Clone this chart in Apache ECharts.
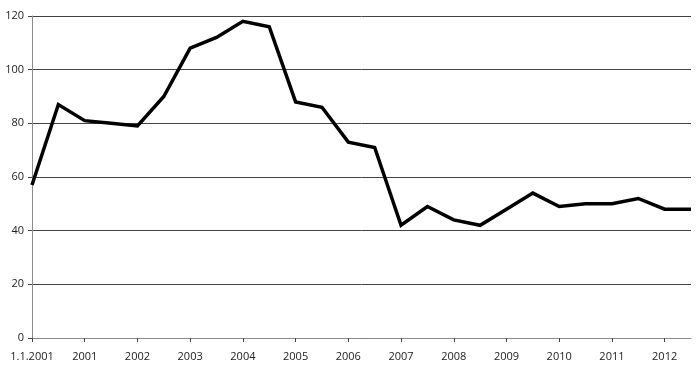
<!DOCTYPE html>
<html>
<head>
<meta charset="utf-8">
<script src="https://cdn.jsdelivr.net/npm/echarts@6/dist/echarts.min.js"></script>
<style>
  html, body { margin: 0; padding: 0; background: #fff; }
  #main { width: 700px; height: 378px; }
</style>
</head>
<body>
<div id="main"></div>
<script>
// half-year points, label on every second one
var categories = [
  "1.1.2001", "", "2001", "", "2002", "", "2003", "", "2004", "", "2005", "", "2006",
  "", "2007", "", "2008", "", "2009", "", "2010", "", "2011", "", "2012", ""
];
var values = [
  57, 87, 81, 80, 79, 90, 108, 112, 118, 116, 88, 86, 73,
  71, 42, 49, 44, 42, 48, 54, 49, 50, 50, 52, 48, 48
];
var yTicks = { min: 0, max: 120, interval: 20 };

var chart = echarts.init(document.getElementById("main"));
chart.setOption({
  animation: false,
  grid: { left: 32, right: 9, top: 16, bottom: 40, containLabel: false },
  xAxis: {
    type: "category",
    data: categories,
    boundaryGap: false,
    axisLine: { lineStyle: { color: "#8a8a8a", width: 1 } },
    axisTick: { show: true, interval: 1, length: 4, lineStyle: { color: "#444" } },
    axisLabel: {
      interval: 1,
      margin: 13,
      color: "#222",
      fontSize: 11,
      fontFamily: "Open Sans"
    },
    splitLine: { show: false }
  },
  yAxis: {
    type: "value",
    min: yTicks.min,
    max: yTicks.max,
    interval: yTicks.interval,
    axisLine: { show: true, lineStyle: { color: "#8a8a8a", width: 1 } },
    axisTick: { show: true, length: 4, lineStyle: { color: "#444" } },
    axisLabel: {
      margin: 8,
      color: "#222",
      fontSize: 11,
      fontFamily: "Open Sans"
    },
    splitLine: { show: true, lineStyle: { color: "#444", width: 1 } }
  },
  series: [
    {
      type: "line",
      data: values,
      symbol: "none",
      lineStyle: { color: "#000", width: 3.5, join: "miter" }
    }
  ]
});
</script>
</body>
</html>
